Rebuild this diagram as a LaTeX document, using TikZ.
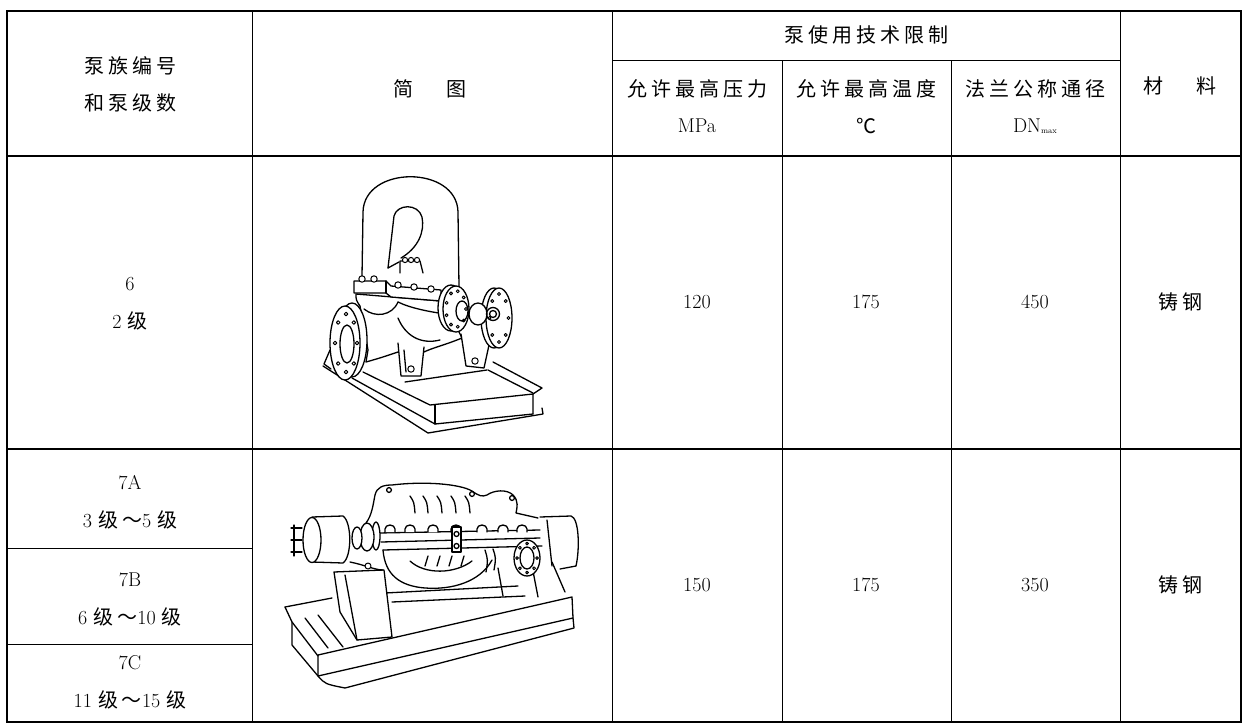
\documentclass[tikz,border=0pt]{standalone}
\usepackage{fontspec}
\newfontfamily\zhfont{Noto Sans CJK SC}[LetterSpace=20]
\newcommand\zh[1]{{\zhfont\fontsize{20}{24}\selectfont #1}}
\tikzset{
          frame/.style={line width=1.8pt},
          rule/.style={line width=2.2pt},
          grid/.style={line width=0.9pt},
          cell/.style={font=\fontsize{20}{24}\selectfont,inner sep=0pt},
          sketch/.style={line width=1.3pt,line join=round,line cap=round},
          bolt/.style={line width=1pt,fill=white}
        }
\newcommand\CellPair[5]{%
          \node[cell] (#1a) at (#2,#3) {#4};
          \node[cell] (#1b) at (#2,#3+37) {#5};
        }

\begin{document}
\begin{tikzpicture}[x=1pt,y=-1pt]
            \useasboundingbox (0,0) rectangle (1246,725);

            % table grid
            \draw[frame] (7,11) rectangle (1241,722);
            \draw[grid] (252,11) -- (252,722) (612,11) -- (612,722)
              (1120,11) -- (1120,722) (782,60) -- (782,722)
              (951,60) -- (951,722);
            \draw[grid] (612,60) -- (1120,60);
            \draw[rule] (7,156) -- (1241,156);
            \draw[grid,line width=1.4pt] (7,449) -- (1241,449);
            \draw[grid] (7,548) -- (252,548) (7,644) -- (252,644);

            % header
            \CellPair{code}{130}{66}{\zh{泵族编号}}{\zh{和泵级数}}
            \node[cell] (pic) at (430,89) {\zh{简\hspace{1.7em}图}};
            \node[cell] (limit) at (866,35) {\zh{泵使用技术限制}};
            \CellPair{press}{697}{89}{\zh{允许最高压力}}{MPa}
            \CellPair{temp}{866}{89}{\zh{允许最高温度}}{\zh{℃}}
            \CellPair{dn}{1035}{89}{\zh{法兰公称通径}}%
              {DN{\fontsize{8}{8}\selectfont\raisebox{-0.4ex}{max}}}
            \node[cell] (mat) at (1180,86) {\zh{材\hspace{1.7em}料}};

            % row 6
            \CellPair{six}{130}{284}{6}{2 \zh{级}}
            \node[cell] (pressA) at (697,302) {120};
            \node[cell] (tempA) at (866,302) {175};
            \node[cell] (dnA) at (1035,302) {450};
            \node[cell] (matA) at (1180,302) {\zh{铸钢}};

            % rows 7A-7C
            \CellPair{sevA}{130}{483}{7A}{3 \zh{级～}5 \zh{级}}
            \CellPair{sevB}{130}{580}{7B}{6 \zh{级～}10 \zh{级}}
            \CellPair{sevC}{130}{663}{7C}{11 \zh{级～}15 \zh{级}}
            \node[cell] (pressB) at (697,585) {150};
            \node[cell] (tempB) at (866,585) {175};
            \node[cell] (dnB) at (1035,585) {350};
            \node[cell] (matB) at (1180,585) {\zh{铸钢}};

            % pump 6
            \begin{scope}[sketch]
              \draw (323,366) -- (428,433) -- (543,414) -- (542,408);
              \draw (352,378) -- (435,424) -- (533,414);
              \draw (363,372) -- (430,405) -- (533,394) -- (533,414);
              \draw (435,405) -- (435,424);
              \draw (493,362) -- (542,388) -- (533,394);
              \draw (488,370) -- (533,393);
              \draw (405,382) -- (487,370);
              \draw (330,350) -- (324,364) -- (331,369);
              \draw (362,276) -- (363,212) .. controls (364,165) and (457,165) .. (458,212) -- (459,287);
              \draw (388,268) -- (394,216) .. controls (397,204) and (418,203) .. (422,217)
                .. controls (425,232) and (418,248) .. (401,258);
              \draw (388,268) -- (399,262);
              \draw (400,273) -- (400,261) -- (420,261) -- (423,273);
              \foreach \bx in {405,411,417} \draw[bolt] (\bx,260) circle (2.6);
              \draw[fill=white] (356,294) .. controls (356,300) .. (360,306)
                -- (368,350) -- (366,362) .. controls (380,358) .. (398,352)
                -- (424,352) .. controls (432,348) and (445,345) .. (462,338)
                -- (452,318) -- (441,301) -- cycle;
              \draw (364,309) .. controls (375,318) and (392,316) .. (398,302);
              \draw (398,302) .. controls (410,308) and (430,312) .. (446,314);
              \draw (398,318) .. controls (405,335) and (420,345) .. (440,340);
              \draw[fill=white] (354,293) -- (354,281) -- (386,281) -- (391,286) -- (441,290)
                -- (441,301) -- (391,297) -- (386,293) -- cycle;
              \draw (386,281) -- (386,293);
              \foreach \bx/\by in {362/279,374/279,398/285,414/287,431/289}
                \draw[bolt] (\bx,\by) circle (3.2);
              \draw[fill=white] (398,343) -- (401,376) -- (421,376) -- (424,347);
              \draw (404,350) -- (406,372);
              \draw[bolt] (411,369) circle (3.2);
              \draw[fill=white] (461,334) -- (466,366) -- (484,368) -- (489,345);
              \draw[bolt] (475,361) circle (3.2);
              \draw[fill=white] (494,318) ellipse [x radius=13,y radius=30];
              \draw[fill=white] (499,318) ellipse [x radius=13,y radius=30];
              \foreach \a in {0,45,...,315}
                \draw[bolt] ({499+9.5*cos(\a)},{318+24*sin(\a)}) circle (1.5);
              \draw[fill=white] (478,314) ellipse [x radius=9,y radius=11];
              \draw (493,314) circle (6.5);
              \draw (493,314) circle (3.5);
              \draw[fill=white] (451,308) ellipse [x radius=13,y radius=23];
              \draw[fill=white] (456,309) ellipse [x radius=13,y radius=23];
              \foreach \a in {0,40,...,320}
                \draw[bolt] ({456+10*cos(\a)},{309+18*sin(\a)}) circle (1.5);
              \draw (462,311) ellipse [x radius=6,y radius=10];
              \draw[fill=white] (352,340) ellipse [x radius=15,y radius=37];
              \draw[fill=white] (345,343) ellipse [x radius=15,y radius=37];
              \draw (347,344) ellipse [x radius=7,y radius=19];
              \foreach \a in {0,45,...,315}
                \draw[bolt] ({346+11*cos(\a)},{343+29*sin(\a)}) circle (1.8);
            \end{scope}

            % pump 7
            \begin{scope}[sketch]
              \draw (318,655) -- (572,597) -- (573,618) -- (318,676) -- cycle;
              \draw (318,676) .. controls (325,684) .. (345,688) -- (574,628) -- (573,618);
              \draw (285,607) -- (332,598);
              \draw (285,607) -- (292,622) -- (292,645) -- (318,676);
              \draw (292,622) -- (318,656);
              \draw (305,618) -- (328,648);
              \draw (318,615) -- (343,647);
              \draw (385,593) -- (518,586);
              \draw (392,602) -- (525,596);
              \draw[fill=white] (334,572) -- (340,612) -- (357,640) -- (392,637)
                -- (384,570) -- cycle;
              \draw (345,575) -- (357,640);
              \draw (498,568) -- (503,596);
              \draw (532,566) -- (538,597);
              \draw (552,562) -- (565,592);
              \draw (540,517) -- (571,516) .. controls (579,518) and (580,548) .. (576,566) -- (560,569);
              \draw (547,520) -- (552,566);
              \draw (366,523) .. controls (372,515) and (373,505) .. (375,495)
                .. controls (377,487) and (383,485) .. (392,485)
                .. controls (425,481) and (460,484) .. (472,491)
                .. controls (479,496) and (482,497) .. (487,495)
                .. controls (494,490) and (507,489) .. (513,495)
                .. controls (519,501) and (517,508) .. (516,513) -- (538,518);
              \foreach \cx/\cy in {389/490,472/494,512/498} \draw (\cx,\cy) circle (2.4);
              \foreach \sx in {410,423,437,451,465}
                \draw (\sx,496) .. controls ({\sx+4},502) .. ({\sx+5},513);
              \draw (378,533) -- (540,530);
              \draw (381,542) -- (540,538);
              \draw (383,550) -- (542,546);
              \foreach \nx in {390,410,433,456,482,503,522}
                \draw[fill=white] ({\nx-5},532) -- ({\nx-5},529)
                  arc[start angle=180,end angle=360,x radius=5,y radius=4] -- ({\nx+5},532);
              \draw[fill=white] (452,527) rectangle (461,552);
              \draw (456.5,534) circle (2.5);
              \draw (456.5,546) circle (2.5);
              \draw (383,550) .. controls (385,575) and (400,586) .. (425,588)
                .. controls (452,590) and (480,582) .. (492,560);
              \draw (410,561) .. controls (425,575) and (455,574) .. (472,561);
              \foreach \sx in {428,440,452,464}
                \draw (\sx,556) .. controls ({\sx-1},561) .. ({\sx-3},566);
              \draw (485,550) .. controls (488,560) .. (486,572);
              \draw (493,549) .. controls (496,558) .. (494,570);
              \draw (350,562) .. controls (365,565) and (375,570) .. (383,570);
              \draw[bolt] (368,566) circle (3);
              \draw[fill=white] (376,536) ellipse [x radius=4,y radius=14];
              \draw[fill=white] (367,537) ellipse [x radius=7,y radius=14];
              \draw[fill=white] (357,538) ellipse [x radius=5,y radius=11];
              \draw[fill=white] (312,517) -- (343,516) .. controls (352,522) and (352,557) .. (343,563)
                -- (312,562);
              \draw[fill=white] (312,540) ellipse [x radius=9,y radius=22.5];
              \draw (302,528) -- (291,528) (302,540) -- (291,540) (302,552) -- (291,552);
              \draw (294,525) -- (294,556);
              \draw[fill=white] (527,558) ellipse [x radius=13,y radius=18];
              \draw (527,558) ellipse [x radius=7,y radius=11];
              \foreach \a in {0,45,...,315}
                \draw[bolt] ({527+10*cos(\a)},{558+14.5*sin(\a)}) circle (1.4);
            \end{scope}

\end{tikzpicture}
\end{document}
